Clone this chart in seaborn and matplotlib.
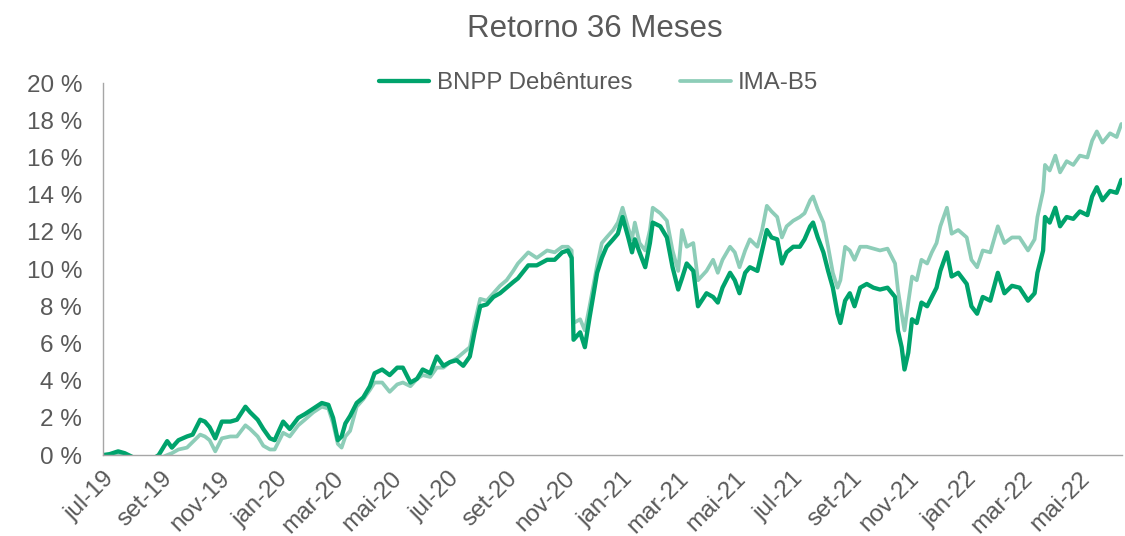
import matplotlib
matplotlib.use("Agg")
import matplotlib.pyplot as plt
import matplotlib.dates as mdates
import matplotlib.ticker as mticker
import seaborn as sns
import pandas as pd

# ---- data ----
datas = [
    "2019-07-01", "2019-07-08", "2019-07-17", "2019-07-24", "2019-08-01", "2019-08-09", "2019-08-20", "2019-08-29",
    "2019-09-07", "2019-09-12", "2019-09-19", "2019-09-28", "2019-10-04", "2019-10-12", "2019-10-17", "2019-10-22",
    "2019-10-28", "2019-11-04", "2019-11-13", "2019-11-20", "2019-11-29", "2019-12-04", "2019-12-12", "2019-12-18",
    "2019-12-25", "2019-12-30", "2020-01-08", "2020-01-15", "2020-01-24", "2020-01-31", "2020-02-09", "2020-02-18",
    "2020-02-25", "2020-03-01", "2020-03-06", "2020-03-10", "2020-03-14", "2020-03-19", "2020-03-26", "2020-04-02",
    "2020-04-09", "2020-04-14", "2020-04-22", "2020-04-30", "2020-05-08", "2020-05-14", "2020-05-22", "2020-05-29",
    "2020-06-04", "2020-06-12", "2020-06-19", "2020-06-26", "2020-07-03", "2020-07-10", "2020-07-17", "2020-07-24",
    "2020-07-29", "2020-08-04", "2020-08-11", "2020-08-18", "2020-08-25", "2020-09-01", "2020-09-08", "2020-09-13",
    "2020-09-24", "2020-10-03", "2020-10-14", "2020-10-22", "2020-10-30", "2020-11-05", "2020-11-09", "2020-11-11",
    "2020-11-18", "2020-11-23", "2020-11-28", "2020-12-06", "2020-12-11", "2020-12-16", "2020-12-23", "2020-12-28",
    "2021-01-02", "2021-01-08", "2021-01-12", "2021-01-15", "2021-01-20", "2021-01-26", "2021-01-31", "2021-02-03",
    "2021-02-11", "2021-02-18", "2021-02-24", "2021-03-02", "2021-03-06", "2021-03-11", "2021-03-18", "2021-03-23",
    "2021-04-01", "2021-04-08", "2021-04-13", "2021-04-18", "2021-04-26", "2021-05-01", "2021-05-06", "2021-05-12",
    "2021-05-17", "2021-05-25", "2021-05-30", "2021-06-04", "2021-06-09", "2021-06-15", "2021-06-20", "2021-06-25",
    "2021-07-02", "2021-07-09", "2021-07-14", "2021-07-20", "2021-07-23", "2021-07-28", "2021-08-03", "2021-08-08",
    "2021-08-13", "2021-08-18", "2021-08-21", "2021-08-26", "2021-08-31", "2021-09-05", "2021-09-11", "2021-09-18",
    "2021-09-25", "2021-10-02", "2021-10-10", "2021-10-18", "2021-10-21", "2021-10-25", "2021-10-28", "2021-11-01",
    "2021-11-05", "2021-11-10", "2021-11-15", "2021-11-21", "2021-11-26", "2021-12-01", "2021-12-05", "2021-12-12",
    "2021-12-17", "2021-12-24", "2022-01-02", "2022-01-07", "2022-01-13", "2022-01-19", "2022-01-27", "2022-02-04",
    "2022-02-11", "2022-02-19", "2022-02-27", "2022-03-08", "2022-03-15", "2022-03-18", "2022-03-24", "2022-03-26",
    "2022-03-31", "2022-04-06", "2022-04-11", "2022-04-18", "2022-04-25", "2022-05-02", "2022-05-10", "2022-05-15",
    "2022-05-20", "2022-05-26", "2022-06-03", "2022-06-10", "2022-06-15",
]

bnpp = [
    0.0, 0.05, 0.2, 0.1, -0.1, -0.3, -0.3, 0.0,
    0.75, 0.4, 0.8, 1.0, 1.1, 1.9, 1.8, 1.5,
    0.9, 1.8, 1.8, 1.9, 2.6, 2.3, 1.9, 1.4,
    0.9, 0.8, 1.8, 1.4, 2.0, 2.2, 2.5, 2.8,
    2.7, 2.0, 0.8, 1.0, 1.7, 2.1, 2.8, 3.1,
    3.7, 4.4, 4.6, 4.3, 4.7, 4.7, 3.9, 4.1,
    4.6, 4.4, 5.3, 4.8, 5.0, 5.1, 4.8, 5.3,
    6.6, 8.0, 8.1, 8.5, 8.7, 9.0, 9.3, 9.5,
    10.2, 10.2, 10.5, 10.5, 10.9, 11.0, 10.6, 6.2,
    6.6, 5.8, 7.4, 9.8, 10.6, 11.2, 11.6, 11.9,
    12.8, 11.7, 10.9, 11.6, 10.9, 10.1, 11.4, 12.5,
    12.3, 11.7, 10.1, 8.9, 9.5, 10.3, 9.9, 8.0,
    8.7, 8.5, 8.2, 9.0, 9.8, 9.4, 8.7, 9.8,
    10.1, 9.9, 11.0, 12.1, 11.7, 11.6, 10.3, 10.9,
    11.2, 11.2, 11.6, 12.3, 12.5, 11.7, 10.9, 9.9,
    9.0, 7.6, 7.1, 8.3, 8.7, 8.0, 9.0, 9.2,
    9.0, 8.9, 9.0, 8.5, 6.7, 5.8, 4.6, 5.5,
    7.3, 7.1, 8.2, 8.0, 8.5, 9.0, 9.9, 10.9,
    9.6, 9.8, 9.2, 8.0, 7.6, 8.5, 8.3, 9.8,
    8.7, 9.1, 9.0, 8.3, 8.7, 9.8, 11.0, 12.8,
    12.5, 13.3, 12.3, 12.8, 12.7, 13.1, 12.9, 13.9,
    14.4, 13.7, 14.2, 14.1, 14.8,
]

ima_b5 = [
    0.0, 0.0, 0.05, 0.0, -0.1, -0.3, -0.4, -0.2,
    0.0, 0.1, 0.3, 0.4, 0.7, 1.1, 1.0, 0.8,
    0.2, 0.9, 1.0, 1.0, 1.6, 1.4, 1.0, 0.5,
    0.3, 0.3, 1.2, 1.0, 1.6, 1.9, 2.3, 2.6,
    2.5, 1.7, 0.6, 0.4, 1.0, 1.3, 2.6, 3.0,
    3.5, 3.9, 3.9, 3.4, 3.8, 3.9, 3.7, 4.1,
    4.3, 4.2, 4.7, 4.7, 5.0, 5.2, 5.5, 5.8,
    7.1, 8.4, 8.3, 8.7, 9.1, 9.4, 9.9, 10.3,
    10.9, 10.6, 11.0, 10.9, 11.2, 11.2, 11.0, 7.1,
    7.3, 6.7, 8.0, 10.2, 11.4, 11.7, 12.1, 12.5,
    13.3, 12.2, 11.6, 12.5, 11.4, 11.0, 12.1, 13.3,
    13.0, 12.6, 11.0, 9.9, 12.1, 11.2, 11.4, 9.4,
    9.9, 10.5, 9.8, 10.5, 11.2, 10.9, 10.1, 11.0,
    11.6, 11.2, 12.1, 13.4, 13.1, 12.8, 11.7, 12.3,
    12.6, 12.8, 13.0, 13.7, 13.9, 13.2, 12.5, 11.2,
    9.8, 9.0, 9.4, 11.2, 11.0, 10.5, 11.2, 11.2,
    11.1, 11.0, 11.1, 10.3, 8.9, 7.6, 6.7, 8.2,
    9.6, 9.4, 10.5, 10.3, 10.9, 11.4, 12.3, 13.3,
    11.9, 12.1, 11.7, 10.5, 10.1, 11.0, 10.9, 12.3,
    11.4, 11.7, 11.7, 11.0, 11.6, 12.8, 14.2, 15.6,
    15.3, 16.1, 15.2, 15.8, 15.6, 16.1, 16.0, 16.9,
    17.4, 16.8, 17.3, 17.1, 17.8,
]

series_names = ["BNPP Debêntures", "IMA-B5"]
y_ticks = [0, 2, 4, 6, 8, 10, 12, 14, 16, 18, 20]
title = "Retorno 36 Meses"
month_abbr = ["jan", "fev", "mar", "abr", "mai", "jun", "jul", "ago", "set", "out", "nov", "dez"]

# ---- build frame ----
dt = pd.to_datetime(datas)
df = pd.concat([
    pd.DataFrame({"Data": dt, "Retorno": bnpp, "Série": series_names[0]}),
    pd.DataFrame({"Data": dt, "Retorno": ima_b5, "Série": series_names[1]}),
])

sns.set_theme(style="white")
plt.rcParams["font.family"] = ["Liberation Sans", "DejaVu Sans"]

text_color = "#595959"
axis_color = "#A6A6A6"
dark_green = "#00A36C"
light_green = "#8DCDB8"

fig = plt.figure(figsize=(11.25, 5.36), dpi=100)
ax = fig.add_axes([0.0916, 0.151, 0.906, 0.694])

sns.lineplot(data=df[df["Série"] == series_names[1]], x="Data", y="Retorno",
             color=light_green, linewidth=2.7, ax=ax, label=series_names[1])
sns.lineplot(data=df[df["Série"] == series_names[0]], x="Data", y="Retorno",
             color=dark_green, linewidth=3.1, ax=ax, label=series_names[0])

ax.set_ylim(0, 20)
ax.set_yticks(y_ticks)
ax.yaxis.set_major_formatter(mticker.FuncFormatter(lambda v, p: f"{v:.0f} %"))
ax.set_xlim(pd.Timestamp("2019-07-01"), pd.Timestamp("2022-06-16"))
ax.xaxis.set_major_locator(mdates.MonthLocator(bymonth=[1, 3, 5, 7, 9, 11]))
ax.xaxis.set_major_formatter(mticker.FuncFormatter(
    lambda v, p: f"{month_abbr[mdates.num2date(v).month - 1]}-{mdates.num2date(v).year % 100:02d}"))

ax.set_xlabel("")
ax.set_ylabel("")
for s in ["top", "right"]:
    ax.spines[s].set_visible(False)
for s in ["left", "bottom"]:
    ax.spines[s].set_color(axis_color)
    ax.spines[s].set_linewidth(1.0)

ax.tick_params(axis="x", which="major", direction="out", length=5, width=1,
               color=axis_color, labelsize=17.5, labelcolor=text_color, pad=4)
ax.tick_params(axis="y", length=0, labelsize=17.5, labelcolor=text_color, pad=15)
for lab in ax.get_xticklabels():
    lab.set_rotation(45)
    lab.set_ha("right")
    lab.set_rotation_mode("anchor")

ax.grid(False)

handles, labels = ax.get_legend_handles_labels()
order = [labels.index(n) for n in series_names]
leg = ax.legend([handles[i] for i in order], [labels[i] for i in order],
                loc="center", bbox_to_anchor=(0.532, 0.845), bbox_transform=fig.transFigure,
                ncol=2, frameon=False, fontsize=17.3, handlelength=2.1,
                columnspacing=2.0, handletextpad=0.3)
for t in leg.get_texts():
    t.set_color(text_color)

fig.text(0.529, 0.945, title, ha="center", va="center", fontsize=22.5, color=text_color)

fig.savefig("out.png", dpi=100)
